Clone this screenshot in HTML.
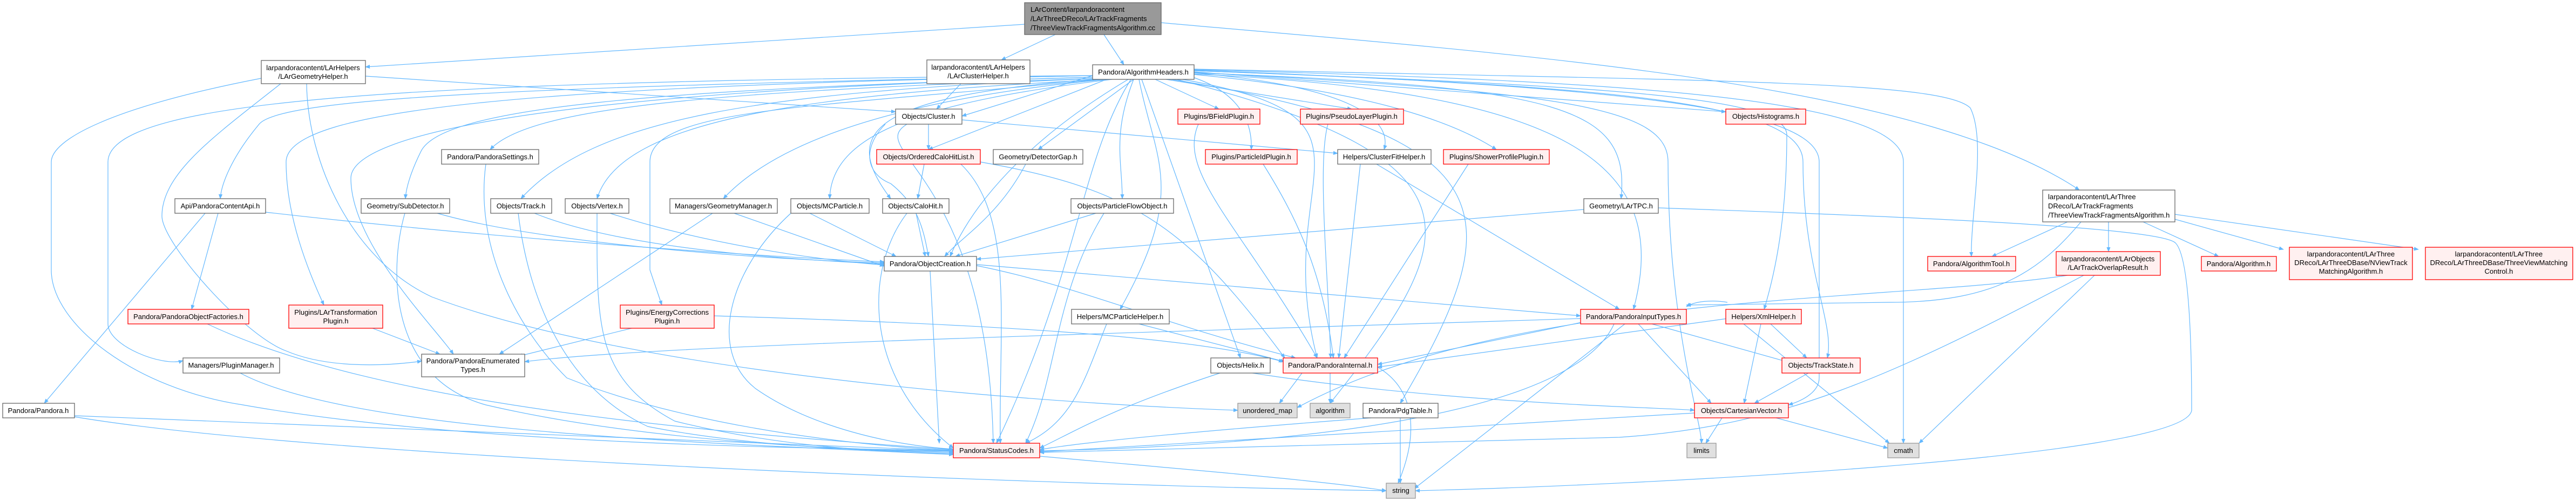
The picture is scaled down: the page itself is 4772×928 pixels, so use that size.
<!DOCTYPE html>
<html><head><meta charset="utf-8"><style>
html,body{margin:0;padding:0;background:#fff;}
svg{display:block;}
text{font-family:"Liberation Sans",Arial,sans-serif;font-size:13px;fill:#000;}
.e{fill:none;stroke:#63b8ff;stroke-width:1.2;marker-end:url(#a);}
.w{fill:#fff;stroke:#666;stroke-width:1.3;}
.r{fill:#fff0f0;stroke:#ff0000;stroke-width:1.3;}
.g{fill:#e0e0e0;stroke:#999;stroke-width:1.3;}
.k{fill:#999;stroke:#666;stroke-width:1.3;}
</style></head><body>
<svg width="4772" height="928" viewBox="0 0 4772 928" xmlns="http://www.w3.org/2000/svg">
<defs><marker id="a" viewBox="0 0 10 10" refX="9" refY="5" markerWidth="9" markerHeight="9" markerUnits="userSpaceOnUse" orient="auto"><path d="M0,1 L10,5 L0,9 z" fill="#63b8ff"/></marker></defs>
<g>
<path class="e" d="M1898,45 L677,124"/>
<path class="e" d="M1955,64 L1855,111"/>
<path class="e" d="M2045,64 L2082,120"/>
<path class="e" d="M2151,42 C2800,100 3550,150 3852,352"/>
<path class="e" d="M484,145 C200,200 95,260 95,300 L95,500 C95,600 250,720 450,750 C900,830 1600,830 1766,835"/>
<path class="e" d="M520,155 C400,250 300,320 300,400 C300,450 450,620 530,650 C600,680 700,680 781,669"/>
<path class="e" d="M568,155 C570,300 650,480 800,550 C1200,700 2000,750 2293,760"/>
<path class="e" d="M677,141 L1659,207"/>
<path class="e" d="M1780,155 L1735,202"/>
<path class="e" d="M2024,140 C1000,160 520,180 480,230 C430,290 410,340 408,368"/>
<path class="e" d="M2030,143 C1200,165 820,200 780,280 C760,320 752,350 751,368"/>
<path class="e" d="M2035,145 C1300,170 980,200 908,277"/>
<path class="e" d="M2040,145 C1400,170 1100,220 965,368"/>
<path class="e" d="M2045,147 C1500,175 1150,220 1106,368"/>
<path class="e" d="M2050,147 C1700,180 1450,250 1340,368"/>
<path class="e" d="M2060,147 C1700,190 1540,250 1537,368"/>
<path class="e" d="M2024,147 C1600,180 1560,250 1650,368"/>
<path class="e" d="M2024,140 L1782,215"/>
<path class="e" d="M2050,147 L1720,277"/>
<path class="e" d="M2100,147 L1923,277"/>
<path class="e" d="M2100,147 C2060,250 2079,300 2079,368"/>
<path class="e" d="M2110,147 C2140,300 2200,350 2075,573"/>
<path class="e" d="M2115,147 L2298,663"/>
<path class="e" d="M2140,147 L2258,202"/>
<path class="e" d="M2160,147 L2504,202"/>
<path class="e" d="M2200,140 C2300,170 2320,230 2318,277"/>
<path class="e" d="M2212,135 C2500,160 2580,220 2564,277"/>
<path class="e" d="M2212,138 C2550,170 2700,230 2772,277"/>
<path class="e" d="M2212,133 L3197,207"/>
<path class="e" d="M2212,135 C2900,160 3020,200 3003,368"/>
<path class="e" d="M2212,137 C2900,170 3100,300 3026,573"/>
<path class="e" d="M2212,131 C3000,160 3310,180 3310,250 C3310,400 3290,500 3268,573"/>
<path class="e" d="M2212,131 C3000,160 3340,190 3340,300 C3340,500 3400,600 3385,663"/>
<path class="e" d="M2212,130 C3000,160 3370,200 3370,300 L3370,700 C3370,730 3330,745 3313,750"/>
<path class="e" d="M2212,129 C3000,150 3526,180 3526,300 L3526,821"/>
<path class="e" d="M2212,134 C2900,170 3090,200 3090,300 C3090,600 3152,780 3152,821"/>
<path class="e" d="M2212,128 C3200,150 3600,150 3650,200 C3680,260 3650,400 3652,475"/>
<path class="e" d="M2170,147 C2800,250 2800,400 2594,747"/>
<path class="e" d="M2180,147 C2780,300 2700,450 2464,747"/>
<path class="e" d="M2190,147 C2600,220 2350,320 2440,663"/>
<path class="e" d="M2095,147 C2000,300 2000,500 1846,821"/>
<path class="e" d="M2090,147 C1900,260 1800,380 1760,475"/>
<path class="e" d="M2024,143 C1000,170 650,250 650,330 C650,450 800,600 840,656"/>
<path class="e" d="M2024,140 C800,150 200,180 200,300 L200,600 C200,640 300,680 339,668"/>
<path class="e" d="M2024,140 C1000,160 530,200 530,300 C530,400 570,500 600,565"/>
<path class="e" d="M2040,147 C1500,200 1204,200 1204,300 L1204,500 L1226,565"/>
<path class="e" d="M380,395 L82,747"/>
<path class="e" d="M492,393 C900,440 1400,475 1638,485"/>
<path class="e" d="M404,395 L355,573"/>
<path class="e" d="M810,395 C1000,450 1400,480 1638,487"/>
<path class="e" d="M750,395 C720,500 720,700 900,750 C1200,820 1600,835 1766,836"/>
<path class="e" d="M990,395 C1150,460 1450,480 1638,489"/>
<path class="e" d="M960,395 C980,560 1050,720 1200,790 C1400,830 1650,836 1766,838"/>
<path class="e" d="M1130,395 C1300,450 1500,480 1638,491"/>
<path class="e" d="M1106,395 C1106,600 1100,700 1250,780 C1450,830 1650,838 1766,840"/>
<path class="e" d="M1360,395 L1638,493"/>
<path class="e" d="M1320,395 L925,656"/>
<path class="e" d="M1500,395 L1660,475"/>
<path class="e" d="M1465,395 C1350,500 1310,650 1400,720 C1500,790 1650,825 1766,832"/>
<path class="e" d="M900,304 C880,450 950,600 1050,700 C1300,800 1650,830 1766,834"/>
<path class="e" d="M384,600 C700,750 1300,800 1766,833"/>
<path class="e" d="M690,608 L815,656"/>
<path class="e" d="M1170,608 L960,660"/>
<path class="e" d="M1323,585 C1800,600 2200,620 2377,670"/>
<path class="e" d="M445,691 C650,800 1300,820 1766,842"/>
<path class="e" d="M138,770 L1766,835"/>
<path class="e" d="M138,772 C600,850 2000,900 2568,909"/>
<path class="e" d="M1720,230 L1720,277"/>
<path class="e" d="M1782,222 L2478,284"/>
<path class="e" d="M1640,230 C1600,270 1600,320 1650,340 C1700,380 1710,420 1720,475"/>
<path class="e" d="M1680,230 C1600,280 1830,320 1840,821"/>
<path class="e" d="M1712,304 L1700,368"/>
<path class="e" d="M1816,300 C2100,350 2200,420 2380,663"/>
<path class="e" d="M1780,304 C1880,400 1850,600 1853,821"/>
<path class="e" d="M1900,304 C1850,400 1780,440 1750,475"/>
<path class="e" d="M1697,395 L1714,475"/>
<path class="e" d="M1680,395 C1600,500 1600,700 1766,830"/>
<path class="e" d="M2030,395 L1770,475"/>
<path class="e" d="M2045,395 C1950,550 1960,700 1900,821"/>
<path class="e" d="M1723,502 L1740,821"/>
<path class="e" d="M1809,492 C2000,530 2150,600 2400,663"/>
<path class="e" d="M1809,490 L2928,585"/>
<path class="e" d="M2220,230 C2180,320 2300,420 2440,663"/>
<path class="e" d="M2460,230 C2440,300 2460,500 2465,663"/>
<path class="e" d="M2340,304 C2400,400 2450,500 2470,663"/>
<path class="e" d="M2520,304 L2480,663"/>
<path class="e" d="M2550,304 L3000,573"/>
<path class="e" d="M2720,304 L2490,663"/>
<path class="e" d="M2934,388 L1809,480"/>
<path class="e" d="M3072,385 C3500,400 4000,420 4030,450 C4060,480 4060,700 4060,760 C4050,850 3000,900 2622,909"/>
<path class="e" d="M2110,600 L2380,670"/>
<path class="e" d="M2050,600 C2010,700 1990,780 1900,821"/>
<path class="e" d="M2940,595 L2552,675"/>
<path class="e" d="M2990,600 C2900,800 2200,830 1926,835"/>
<path class="e" d="M3010,600 L2620,905"/>
<path class="e" d="M3035,600 L3170,747"/>
<path class="e" d="M3060,600 L3310,670"/>
<path class="e" d="M2928,590 C2000,620 1200,640 972,670"/>
<path class="e" d="M3200,560 C3170,555 3140,558 3124,568"/>
<path class="e" d="M3200,590 L2552,680"/>
<path class="e" d="M3262,600 L3231,747"/>
<path class="e" d="M3280,600 L3347,663"/>
<path class="e" d="M3230,600 L3500,821"/>
<path class="e" d="M3855,411 C3780,500 3700,560 3500,560 L3124,565"/>
<path class="e" d="M3830,510 C3500,560 2800,540 2403,755"/>
<path class="e" d="M3860,510 C3500,700 3300,790 3000,810 L1926,838"/>
<path class="e" d="M3880,510 L3555,821"/>
<path class="e" d="M3830,411 L3690,475"/>
<path class="e" d="M3906,411 L3906,466"/>
<path class="e" d="M3970,411 L4110,475"/>
<path class="e" d="M4025,405 L4230,462"/>
<path class="e" d="M4029,397 L4480,462"/>
<path class="e" d="M2260,691 C2050,760 1990,800 1926,830"/>
<path class="e" d="M2320,691 C2700,750 3100,755 3139,760"/>
<path class="e" d="M2412,691 L2370,747"/>
<path class="e" d="M2464,691 L2464,747"/>
<path class="e" d="M2552,680 C2620,720 2630,800 2590,895"/>
<path class="e" d="M3350,691 L3250,747"/>
<path class="e" d="M3139,765 C2500,800 2000,830 1926,837"/>
<path class="e" d="M3290,774 L3497,830"/>
<path class="e" d="M3190,774 L3160,821"/>
<path class="e" d="M2540,774 C2200,800 2000,820 1926,833"/>
<path class="e" d="M2594,774 L2594,895"/>
<path class="e" d="M1926,845 C2200,870 2450,890 2568,909"/>
</g>
<g>
<rect class="k" x="1898" y="5" width="253" height="59"/>
<text x="1909" y="22">LArContent/larpandoracontent</text><text x="1909" y="39">/LArThreeDReco/LArTrackFragments</text><text x="1909" y="56">/ThreeViewTrackFragmentsAlgorithm.cc</text>
<rect class="w" x="3784" y="352" width="245" height="59"/>
<text x="3794" y="369">larpandoracontent/LArThree</text><text x="3794" y="386">DReco/LArTrackFragments</text><text x="3794" y="403">/ThreeViewTrackFragmentsAlgorithm.h</text>
</g>
<g text-anchor="middle">
<rect class="w" x="484" y="112" width="193" height="43"/><text x="580" y="130">larpandoracontent/LArHelpers</text><text x="580" y="146">/LArGeometryHelper.h</text>
<rect class="w" x="1717" y="111" width="191" height="44"/><text x="1812" y="129">larpandoracontent/LArHelpers</text><text x="1812" y="145">/LArClusterHelper.h</text>
<rect class="w" x="2024" y="120" width="188" height="27"/><text x="2118" y="138">Pandora/AlgorithmHeaders.h</text>
<rect class="w" x="1659" y="202" width="123" height="28"/><text x="1720" y="220">Objects/Cluster.h</text>
<rect class="r" x="2182" y="202" width="152" height="28"/><text x="2258" y="220">Plugins/BFieldPlugin.h</text>
<rect class="r" x="2409" y="202" width="191" height="28"/><text x="2504" y="220">Plugins/PseudoLayerPlugin.h</text>
<rect class="r" x="3197" y="202" width="148" height="28"/><text x="3271" y="220">Objects/Histograms.h</text>
<rect class="w" x="818" y="277" width="180" height="27"/><text x="908" y="295">Pandora/PandoraSettings.h</text>
<rect class="r" x="1624" y="277" width="192" height="27"/><text x="1720" y="295">Objects/OrderedCaloHitList.h</text>
<rect class="w" x="1840" y="277" width="166" height="27"/><text x="1923" y="295">Geometry/DetectorGap.h</text>
<rect class="r" x="2233" y="277" width="170" height="27"/><text x="2318" y="295">Plugins/ParticleIdPlugin.h</text>
<rect class="w" x="2478" y="277" width="173" height="27"/><text x="2564" y="295">Helpers/ClusterFitHelper.h</text>
<rect class="r" x="2674" y="277" width="196" height="27"/><text x="2772" y="295">Plugins/ShowerProfilePlugin.h</text>
<rect class="w" x="324" y="368" width="168" height="27"/><text x="408" y="386">Api/PandoraContentApi.h</text>
<rect class="w" x="669" y="368" width="164" height="27"/><text x="751" y="386">Geometry/SubDetector.h</text>
<rect class="w" x="909" y="368" width="113" height="27"/><text x="965" y="386">Objects/Track.h</text>
<rect class="w" x="1047" y="368" width="118" height="27"/><text x="1106" y="386">Objects/Vertex.h</text>
<rect class="w" x="1241" y="368" width="199" height="27"/><text x="1340" y="386">Managers/GeometryManager.h</text>
<rect class="w" x="1465" y="368" width="145" height="27"/><text x="1537" y="386">Objects/MCParticle.h</text>
<rect class="w" x="1635" y="368" width="123" height="27"/><text x="1696" y="386">Objects/CaloHit.h</text>
<rect class="w" x="1984" y="368" width="190" height="27"/><text x="2079" y="386">Objects/ParticleFlowObject.h</text>
<rect class="w" x="2934" y="368" width="138" height="27"/><text x="3003" y="386">Geometry/LArTPC.h</text>
<rect class="w" x="1638" y="475" width="171" height="27"/><text x="1723" y="493">Pandora/ObjectCreation.h</text>
<rect class="r" x="3571" y="475" width="163" height="27"/><text x="3652" y="493">Pandora/AlgorithmTool.h</text>
<rect class="r" x="3809" y="466" width="193" height="44"/><text x="3905" y="484">larpandoracontent/LArObjects</text><text x="3905" y="500">/LArTrackOverlapResult.h</text>
<rect class="r" x="4078" y="475" width="139" height="27"/><text x="4147" y="493">Pandora/Algorithm.h</text>
<rect class="r" x="4241" y="458" width="228" height="60"/><text x="4355" y="475">larpandoracontent/LArThree</text><text x="4355" y="491">DReco/LArThreeDBase/NViewTrack</text><text x="4355" y="507">MatchingAlgorithm.h</text>
<rect class="r" x="4493" y="458" width="273" height="60"/><text x="4629" y="475">larpandoracontent/LArThree</text><text x="4629" y="491">DReco/LArThreeDBase/ThreeViewMatching</text><text x="4629" y="507">Control.h</text>
<rect class="r" x="237" y="573" width="224" height="27"/><text x="349" y="591">Pandora/PandoraObjectFactories.h</text>
<rect class="r" x="535" y="565" width="174" height="43"/><text x="622" y="583">Plugins/LArTransformation</text><text x="622" y="599">Plugin.h</text>
<rect class="r" x="1149" y="565" width="174" height="43"/><text x="1236" y="583">Plugins/EnergyCorrections</text><text x="1236" y="599">Plugin.h</text>
<rect class="w" x="1985" y="573" width="181" height="27"/><text x="2075" y="591">Helpers/MCParticleHelper.h</text>
<rect class="r" x="2928" y="573" width="196" height="27"/><text x="3026" y="591">Pandora/PandoraInputTypes.h</text>
<rect class="r" x="3197" y="573" width="140" height="27"/><text x="3267" y="591">Helpers/XmlHelper.h</text>
<rect class="w" x="781" y="656" width="191" height="42"/><text x="876" y="673">Pandora/PandoraEnumerated</text><text x="876" y="689">Types.h</text>
<rect class="w" x="339" y="663" width="179" height="28"/><text x="428" y="681">Managers/PluginManager.h</text>
<rect class="w" x="2243" y="663" width="110" height="28"/><text x="2298" y="681">Objects/Helix.h</text>
<rect class="r" x="2377" y="663" width="175" height="28"/><text x="2464" y="681">Pandora/PandoraInternal.h</text>
<rect class="r" x="3301" y="663" width="145" height="28"/><text x="3373" y="681">Objects/TrackState.h</text>
<rect class="w" x="5" y="747" width="133" height="27"/><text x="71" y="765">Pandora/Pandora.h</text>
<rect class="g" x="2293" y="747" width="110" height="27"/><text x="2348" y="765">unordered_map</text>
<rect class="g" x="2427" y="747" width="74" height="27"/><text x="2464" y="765">algorithm</text>
<rect class="w" x="2525" y="747" width="139" height="27"/><text x="2594" y="765">Pandora/PdgTable.h</text>
<rect class="r" x="3139" y="747" width="174" height="27"/><text x="3226" y="765">Objects/CartesianVector.h</text>
<rect class="r" x="1766" y="821" width="160" height="27"/><text x="1846" y="839">Pandora/StatusCodes.h</text>
<rect class="g" x="3125" y="821" width="54" height="27"/><text x="3152" y="839">limits</text>
<rect class="g" x="3497" y="821" width="58" height="27"/><text x="3526" y="839">cmath</text>
<rect class="g" x="2568" y="895" width="54" height="28"/><text x="2595" y="913">string</text>
</g>
</svg>
</body></html>
